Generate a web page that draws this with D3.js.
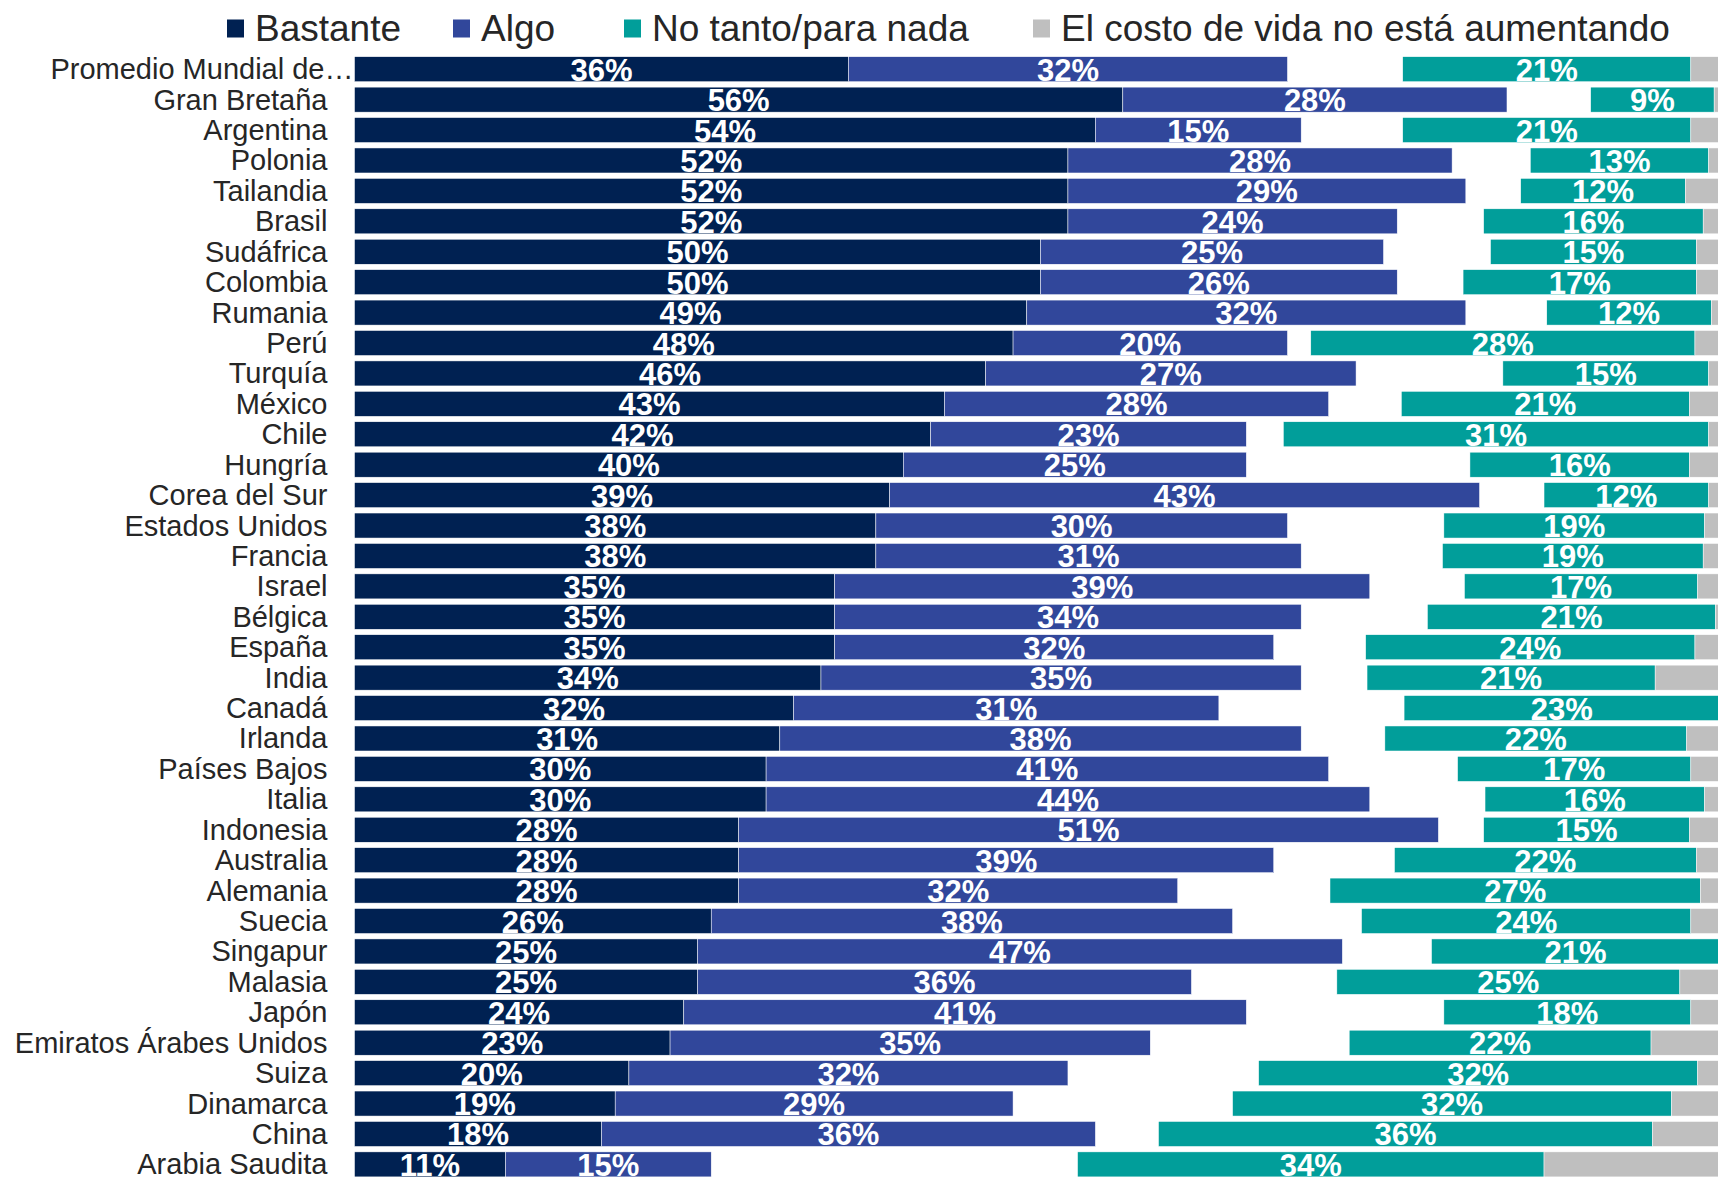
<!DOCTYPE html>
<html>
<head>
<meta charset="utf-8">
<script src="https://cdn.jsdelivr.net/npm/d3@7"></script>
<style>
  body { margin: 0; background: #ffffff; }
  svg { display: block; font-family: "Liberation Sans", Arial, sans-serif; }
</style>
</head>
<body>
<svg id="chart" width="1718" height="1177"></svg>
<script>
// ---------------- DATA ----------------
const categories = [
  "Promedio Mundial de…", "Gran Bretaña", "Argentina", "Polonia", "Tailandia", "Brasil",
  "Sudáfrica", "Colombia", "Rumania", "Perú", "Turquía", "México", "Chile", "Hungría",
  "Corea del Sur", "Estados Unidos", "Francia", "Israel", "Bélgica", "España", "India",
  "Canadá", "Irlanda", "Países Bajos", "Italia", "Indonesia", "Australia", "Alemania",
  "Suecia", "Singapur", "Malasia", "Japón", "Emiratos Árabes Unidos", "Suiza",
  "Dinamarca", "China", "Arabia Saudita"
];
const bastante = [36, 56, 54, 52, 52, 52, 50, 50, 49, 48, 46, 43, 42, 40, 39, 38, 38, 35, 35, 35, 34,
  32, 31, 30, 30, 28, 28, 28, 26, 25, 25, 24, 23, 20, 19, 18, 11];
const algo = [32, 28, 15, 28, 29, 24, 25, 26, 32, 20, 27, 28, 23, 25, 43, 30, 31, 39, 34, 32, 35,
  31, 38, 41, 44, 51, 39, 32, 38, 47, 36, 41, 35, 32, 29, 36, 15];
const noTanto = [21, 9, 21, 13, 12, 16, 15, 17, 12, 28, 15, 21, 31, 16, 12, 19, 19, 17, 21, 24, 21,
  23, 22, 17, 16, 15, 22, 27, 24, 21, 25, 18, 22, 32, 32, 36, 34];
const noAumenta = [2.6, 0.9, 2.6, 1.3, 3.0, 1.7, 2.2, 2.2, 1.1, 2.3, 1.3, 2.7, 1.3, 2.7, 1.3, 1.6, 1.7, 2.1, 0.8, 2.3, 5.2,
  0.5, 2.9, 2.6, 1.6, 2.7, 2.2, 1.9, 2.6, 0.5, 3.4, 2.6, 5.5, 2.1, 4.0, 5.4, 13.3];
const seriesNames = ["Bastante", "Algo", "No tanto/para nada", "El costo de vida no está aumentando"];
const seriesColors = ["#002152", "#31479b", "#019e9a", "#bfbfbf"];

// ---------------- LAYOUT ----------------
const svg = d3.select("#chart");
const W = 1718, H = 1177;
svg.append("rect").attr("width", W).attr("height", H).attr("fill", "#ffffff");

const x = d3.scaleLinear().domain([0, 100]).range([354.5, 1726.5]);
const y = d3.scaleBand().domain(categories).range([54, 1179.6])
  .paddingInner(0.178).paddingOuter(0.089);

const rows = categories.map((c, i) => {
  const b = bastante[i], a = algo[i], t = noTanto[i], g = noAumenta[i];
  return {
    cat: c,
    segs: [
      { s: 0, x0: 0, x1: b, v: b, label: true },
      { s: 1, x0: b, x1: b + a, v: a, label: true },
      { s: 2, x0: 100 - g - t, x1: 100 - g, v: t, label: true },
      { s: 3, x0: 100 - g, x1: 100, v: g, label: false }
    ]
  };
});

const rowG = svg.append("g").selectAll("g").data(rows).join("g")
  .attr("transform", d => `translate(0,${y(d.cat)})`);

rowG.selectAll("rect").data(d => d.segs).join("rect")
  .attr("x", d => x(d.x0))
  .attr("y", 0)
  .attr("width", d => Math.max(0, x(d.x1) - x(d.x0)))
  .attr("height", y.bandwidth())
  .attr("fill", d => seriesColors[d.s])
  .attr("stroke", "#ffffff")
  .attr("stroke-width", 0.5);

rowG.selectAll("text.val").data(d => d.segs.filter(s => s.label)).join("text")
  .attr("class", "val")
  .attr("x", d => (x(d.x0) + x(d.x1)) / 2)
  .attr("y", y.bandwidth() - 1)
  .attr("text-anchor", "middle")
  .attr("fill", "#ffffff")
  .attr("font-weight", "bold")
  .attr("font-size", 31)
  .text(d => d3.format("d")(d.v) + "%");

// category labels
svg.append("g").selectAll("text").data(categories).join("text")
  .attr("x", d => d.endsWith("…") ? x(0) - 1 : x(0) - 27)
  .attr("y", d => y(d) + y.bandwidth() / 2 + 10)
  .attr("text-anchor", "end")
  .attr("fill", "#262626")
  .attr("font-size", 29)
  .text(d => d);

// legend
const legendX = [227, 453, 624, 1033];
const lg = svg.append("g").selectAll("g").data(seriesNames).join("g")
  .attr("transform", (d, i) => `translate(${legendX[i]},0)`);
lg.append("rect").attr("x", 0).attr("y", 19.5).attr("width", 17).attr("height", 18)
  .attr("fill", (d, i) => seriesColors[i]);
lg.append("text").attr("x", 28).attr("y", 40.5)
  .attr("fill", "#262626").attr("font-size", 37)
  .text(d => d);
</script>
</body>
</html>
